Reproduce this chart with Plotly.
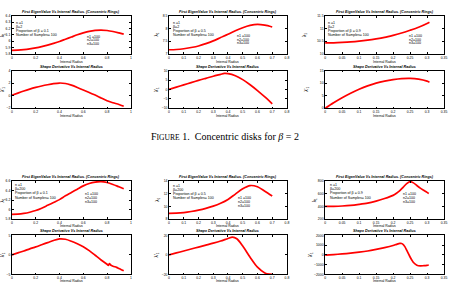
import plotly.graph_objects as go

W, H = 454, 304

# ---------------- data ----------------
# Figure A (beta = 2)
r_a1 = [0, 0.05, 0.1, 0.15, 0.2, 0.25, 0.3, 0.35, 0.4, 0.45, 0.5, 0.55, 0.6, 0.65, 0.7, 0.75, 0.8, 0.85, 0.9, 0.94]
eig_a1 = [5.855, 5.858, 5.865, 5.877, 5.893, 5.913, 5.937, 5.965, 5.995, 6.03, 6.065, 6.1, 6.13, 6.155, 6.17, 6.175, 6.168, 6.152, 6.13, 6.11]
der_a1 = [0.08, 0.42, 0.75, 1.05, 1.32, 1.55, 1.75, 1.92, 2.02, 1.95, 1.68, 1.32, 0.92, 0.5, 0.1, -0.35, -0.8, -1.12, -1.4, -1.68]

r_a2 = [0, 0.05, 0.1, 0.15, 0.2, 0.25, 0.3, 0.35, 0.4, 0.45, 0.5, 0.55, 0.6, 0.65, 0.7]
eig_a2 = [7.16, 7.17, 7.2, 7.25, 7.31, 7.4, 7.51, 7.64, 7.77, 7.91, 8.03, 8.12, 8.16, 8.13, 8.06]
r_a2d = [0, 0.05, 0.1, 0.15, 0.2, 0.25, 0.3, 0.35, 0.375, 0.4, 0.45, 0.5, 0.55, 0.6, 0.65, 0.7]
der_a2 = [0, 1.2, 2.4, 3.6, 4.8, 5.9, 7.0, 8.0, 8.5, 8.4, 7.3, 5.2, 2.5, -0.6, -4.0, -7.6]

r_a3 = [0, 0.025, 0.05, 0.075, 0.1, 0.125, 0.15, 0.175, 0.2, 0.225, 0.25, 0.275, 0.3, 0.307]
eig_a3 = [10.43, 10.435, 10.45, 10.47, 10.5, 10.54, 10.59, 10.65, 10.73, 10.82, 10.93, 11.05, 11.2, 11.25]
der_a3 = [0, 2.2, 4.2, 6.0, 7.6, 8.9, 10.0, 10.8, 11.4, 11.8, 11.9, 11.6, 10.8, 10.4]

# Figure B (beta = 200)
r_b1 = [0, 0.05, 0.1, 0.15, 0.2, 0.25, 0.3, 0.35, 0.4, 0.45, 0.5, 0.55, 0.6, 0.65, 0.7, 0.75, 0.8, 0.85, 0.9, 0.94]
eig_b1 = [5.9, 5.905, 5.92, 5.945, 5.98, 6.03, 6.09, 6.15, 6.21, 6.29, 6.36, 6.43, 6.5, 6.55, 6.58, 6.59, 6.57, 6.53, 6.48, 6.44]
r_b1d = [0, 0.05, 0.1, 0.15, 0.2, 0.25, 0.3, 0.35, 0.4, 0.45, 0.5, 0.55, 0.6, 0.65, 0.7, 0.75, 0.8,
         0.81, 0.82, 0.83, 0.85, 0.88, 0.9, 0.92, 0.94]
der_b1 = [0, 0.5, 1.0, 1.55, 2.05, 2.6, 3.15, 3.7, 4.1, 4.0, 3.5, 2.85, 2.1, 1.1, -0.1, -1.3, -2.4,
          -2.7, -2.25, -2.6, -2.9, -3.2, -3.5, -3.8, -4.1]

r_b2 = [0, 0.05, 0.1, 0.15, 0.2, 0.25, 0.3, 0.35, 0.4, 0.45, 0.5, 0.55, 0.6, 0.65, 0.7]
eig_b2 = [8.9, 8.93, 9.03, 9.2, 9.42, 9.7, 10.05, 10.5, 11.1, 11.95, 12.8, 13.3, 13.1, 12.4, 11.65]
r_b2d = [0, 0.05, 0.1, 0.15, 0.2, 0.25, 0.3, 0.35, 0.4, 0.43, 0.46, 0.5, 0.55, 0.6, 0.65, 0.68, 0.7]
der_b2 = [0, 2, 4, 6, 8, 10, 12, 14.2, 16.8, 18.2, 16.5, 9, -2.4, -12.6, -18.5, -19.8, -20]

r_b3 = [0, 0.025, 0.05, 0.075, 0.1, 0.125, 0.15, 0.175, 0.2, 0.21, 0.22, 0.23, 0.24, 0.25, 0.26, 0.27, 0.28, 0.29, 0.3, 0.305]
eig_b3 = [400, 402, 407, 416, 432, 452, 485, 525, 575, 608, 650, 705, 760, 792, 772, 730, 690, 655, 622, 605]
r_b3d = [0, 0.025, 0.05, 0.075, 0.1, 0.125, 0.15, 0.175, 0.2, 0.21, 0.22, 0.225, 0.23, 0.235, 0.24, 0.245,
         0.25, 0.255, 0.26, 0.27, 0.28, 0.29, 0.3, 0.305]
der_b3 = [-30, 30, 100, 180, 280, 400, 560, 740, 960, 1080, 1180, 1170, 1060, 820, 480, 130,
          -220, -520, -780, -1060, -1130, -1110, -1070, -1040]

beta_values = ["2", "200"]
proportions = ["0.1", "0.5", "0.9"]

TOP_TITLE = "First EigenValue Vs Internal Radius. (Concentric Rings)"
BOT_TITLE = "Shape Derivative Vs Internal Radius"
XLABEL = "Internal Radius"

# ---------------- layout geometry (pixels) ----------------
col_px = [(11, 131), (169.5, 288.5), (327, 447)]
row_px = [(14, 52.5), (69.5, 107.7), (181.5, 220), (236.5, 276)]

series = {
    (0, 0): (r_a1, eig_a1), (0, 1): (r_a2, eig_a2), (0, 2): (r_a3, eig_a3),
    (1, 0): (r_a1, der_a1), (1, 1): (r_a2d, der_a2), (1, 2): (r_a3, der_a3),
    (2, 0): (r_b1, eig_b1), (2, 1): (r_b2, eig_b2), (2, 2): (r_b3, eig_b3),
    (3, 0): (r_b1d, der_b1), (3, 1): (r_b2d, der_b2), (3, 2): (r_b3d, der_b3),
}
xcfg = [([0, 1], 0.2), ([0, 0.8], 0.1), ([0, 0.35], 0.05)]
ycfg = {
    (0, 0): ([5.8, 6.4], 0.1), (0, 1): ([7, 8.5], 0.5), (0, 2): ([10, 11.5], 0.5),
    (1, 0): ([-2, 4], 2), (1, 1): ([-10, 10], 5), (1, 2): ([0, 15], 5),
    (2, 0): ([5.8, 6.6], 0.2), (2, 1): ([8, 14], 2), (2, 2): ([200, 800], 200),
    (3, 0): ([-5, 5], 5), (3, 1): ([-20, 20], 20), (3, 2): ([-2000, 2000], 1000),
}


def px(x):
    return x / W


def py(y):
    return 1 - y / H


FONT = "Liberation Sans"
TICKF = dict(family=FONT, size=3.4, color="black")

fig = go.Figure()
annotations = []


def ann(x, y, text, size=3.6, xanchor="left", yanchor="middle", angle=0, family=FONT, style="normal", weight="normal"):
    annotations.append(dict(
        x=px(x), y=py(y), xref="paper", yref="paper", text=text, showarrow=False,
        xanchor=xanchor, yanchor=yanchor, textangle=angle,
        font=dict(family=family, size=size, color="black", style=style, weight=weight),
    ))


for r in range(4):
    for c in range(3):
        k = r * 3 + c + 1
        xs, ys = series[(r, c)]
        fig.add_trace(go.Scatter(
            x=xs, y=ys, mode="lines", line=dict(color="#ff0000", width=1.7, shape="spline", smoothing=0.8),
            xaxis=f"x{k}", yaxis=f"y{k}", showlegend=False, hoverinfo="skip",
        ))
        xr, xd = xcfg[c]
        yr, yd = ycfg[(r, c)]
        x0, x1 = col_px[c]
        y0, y1 = row_px[r]
        common = dict(showline=True, linecolor="black", linewidth=0.8, mirror="ticks", ticks="inside",
                      ticklen=1.8, tickwidth=0.6, tickcolor="black", showgrid=False, zeroline=False,
                      tickfont=TICKF, exponentformat="none", separatethousands=False)
        fig.layout[f"xaxis{k}"] = dict(domain=[px(x0), px(x1)], anchor=f"y{k}", range=xr, dtick=xd,
                                       tick0=0, **common)
        fig.layout[f"yaxis{k}"] = dict(domain=[py(y1), py(y0)], anchor=f"x{k}", range=yr, dtick=yd,
                                       tick0=0, **common)

# titles and labels
title_y = [10, 65.5, 177, 232]
xlab_y = [61, 116, 226.5, 282.5]
ylab_x = [[1.5, 157, 307], [1.5, 157, 308], [1.5, 157, 316], [1.5, 157, 313]]
for r in range(4):
    for c in range(3):
        x0, x1 = col_px[c]
        y0, y1 = row_px[r]
        ttl = TOP_TITLE if r % 2 == 0 else BOT_TITLE
        ann((x0 + x1) / 2, title_y[r], ttl, size=3.7, xanchor="center", style="italic", weight="bold")
        ann((x0 + x1) / 2, xlab_y[r], XLABEL, size=3.4, xanchor="center")
        yl = "λ₁" if r % 2 == 0 else "λ′₁"
        ann(ylab_x[r][c], (y0 + y1) / 2, yl, size=4.6, xanchor="center", angle=-90)

# in-panel text
left_pos = {
    (0, 0): (13, [21, 25.3, 29.5, 33.7]), (0, 1): (172, [21, 25.2, 29.4, 33.6]), (0, 2): (328, [21, 25.3, 29.6, 33.9]),
    (2, 0): (12, [185, 189.3, 193.8, 198.2]), (2, 1): (172, [186, 190.2, 194.5, 198.8]), (2, 2): (330, [185, 189.3, 193.8, 198.5]),
}
right_pos = {
    (0, 0): (85, [35, 39, 43]), (0, 1): (236, [34, 38, 42]), (0, 2): (410, [34, 38, 42]),
    (2, 0): (83, [195, 199, 203]), (2, 1): (237, [199, 203, 207]), (2, 2): (404, [195, 199, 203]),
}
for (r, c), (lx, lys) in left_pos.items():
    beta = beta_values[r // 2]
    lines = ["n =1", f"β={beta}", f"Proportion of β = {proportions[c]}", "Number of Samples= 100"]
    for t, yy in zip(lines, lys):
        ann(lx, yy, t, size=3.6)
    rx, rys = right_pos[(r, c)]
    for t, yy in zip(["n1 =100", "n2=100", "n3=100"], rys):
        ann(rx, yy, t, size=3.6)

# caption
ann(226, 136, "F<span style='font-size:7.6px'>IGURE</span> 1.\u00a0\u00a0Concentric disks for <i>β</i> = 2",
    size=10, xanchor="center", family="Liberation Serif")

fig.update_layout(
    width=W, height=H, margin=dict(l=0, r=0, t=0, b=0),
    paper_bgcolor="white", plot_bgcolor="white", showlegend=False,
    annotations=annotations,
)

fig.write_html("out.html")
